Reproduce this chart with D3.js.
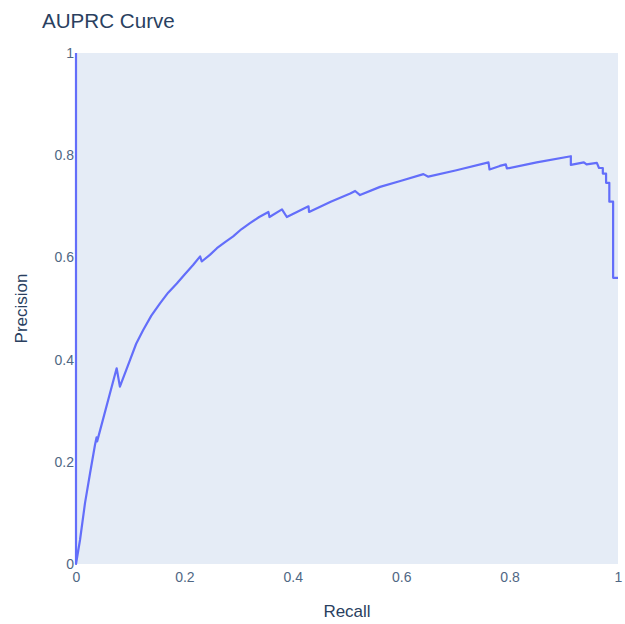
<!DOCTYPE html>
<html><head><meta charset="utf-8">
<script src="https://cdn.jsdelivr.net/npm/d3@7"></script>
<style>body{margin:0;background:#fff;}svg{display:block;font-family:"Liberation Sans",Arial,sans-serif;}</style>
</head><body>
<script>
const recall = [0,0,0.0074,0.0166,0.026,0.035,0.038,0.039,0.075,0.081,0.0996,0.111,0.124,0.139,0.155,0.170,0.186,0.200,0.216,0.229,0.232,0.247,0.260,0.275,0.290,0.305,0.321,0.338,0.355,0.357,0.380,0.389,0.429,0.430,0.470,0.506,0.515,0.524,0.561,0.600,0.641,0.650,0.700,0.761,0.763,0.782,0.793,0.795,0.850,0.913,0.913,0.937,0.942,0.961,0.965,0.972,0.972,0.978,0.978,0.984,0.984,0.991,0.991,1.0];
const precision = [1,0,0.047,0.119,0.178,0.233,0.248,0.240,0.383,0.347,0.399,0.431,0.458,0.486,0.510,0.531,0.549,0.566,0.585,0.602,0.592,0.605,0.618,0.630,0.641,0.655,0.667,0.679,0.689,0.679,0.694,0.679,0.700,0.689,0.709,0.725,0.730,0.722,0.738,0.750,0.763,0.758,0.770,0.786,0.772,0.779,0.782,0.774,0.786,0.798,0.781,0.786,0.782,0.785,0.775,0.775,0.764,0.764,0.746,0.746,0.709,0.709,0.560,0.560];
const xTicks = [0,0.2,0.4,0.6,0.8,1];
const yTicks = [0,0.2,0.4,0.6,0.8,1];

const W=625,H=624, L=76, R=618, T=53, B=564;
const FF="\"Liberation Sans\",Arial,sans-serif";
const svg=d3.select("body").append("svg").attr("width",W).attr("height",H);
svg.append("rect").attr("x",L).attr("y",T).attr("width",R-L).attr("height",B-T).attr("fill","#E5ECF6");
const x=d3.scaleLinear().domain([0,1]).range([L,R]);
const y=d3.scaleLinear().domain([0,1]).range([B,T]);
const col="#2a3f5f";

const xa=svg.append("g").attr("transform",`translate(0,${B})`).call(d3.axisBottom(x).tickValues(xTicks).tickSize(0).tickFormat(d3.format("~g")));
xa.select(".domain").remove();
xa.selectAll("text").attr("fill","#506784").attr("font-size",14).attr("font-family",FF).attr("dy",null).attr("y",18);
const ya=svg.append("g").attr("transform",`translate(${L},0)`).call(d3.axisLeft(y).tickValues(yTicks).tickSize(0).tickPadding(2).tickFormat(d3.format("~g")));
ya.select(".domain").remove();
ya.selectAll("text").attr("fill","#506784").attr("font-size",14).attr("font-family",FF);

const pts=recall.map((r,i)=>[r,precision[i]]);
svg.append("path").datum(pts).attr("fill","none").attr("stroke","#636efa").attr("stroke-width",2.2).attr("stroke-linejoin","round")
  .attr("d",d3.line().x(d=>x(d[0])).y(d=>y(d[1])));

svg.append("text").attr("x",42).attr("y",28).attr("fill",col).attr("font-size",20.6).text("AUPRC Curve");
svg.append("text").attr("x",(L+R)/2).attr("y",617).attr("text-anchor","middle").attr("fill",col).attr("font-size",17).text("Recall");
svg.append("text").attr("transform",`translate(27,${(T+B)/2}) rotate(-90)`).attr("text-anchor","middle").attr("fill",col).attr("font-size",17).text("Precision");
</script>
</body></html>
